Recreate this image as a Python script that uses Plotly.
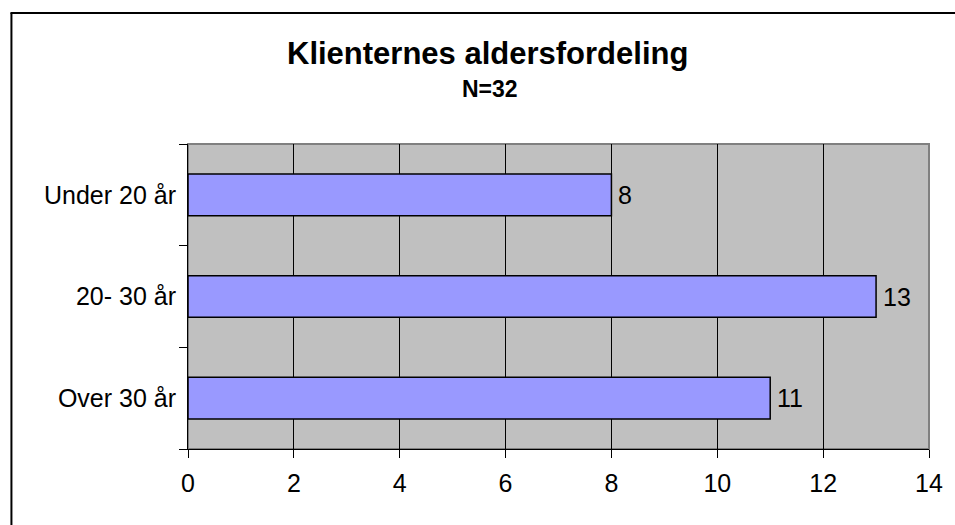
import plotly.graph_objects as go

categories = ["Over 30 år", "20- 30 år", "Under 20 år"]
values = [11, 13, 8]
x_ticks = [0, 2, 4, 6, 8, 10, 12, 14]
title_text = "Klienternes aldersfordeling"
subtitle_text = "N=32"

FONT = "Liberation Sans, Arial, sans-serif"
L, R, T, B = 188, 20, 144, 76
W, H = 955, 525
pw = W - L - R
ph = H - T - B

def px_x(px):
    return (px - L) / pw

def px_y(py):
    return (H - B - py) / ph

fig = go.Figure()
fig.add_trace(go.Bar(
    y=categories, x=values, orientation="h",
    marker=dict(color="#9999ff", line=dict(color="black", width=1.5)),
    hoverinfo="skip",
))

label_annotations = [
    dict(x=v, y=c, xref="x", yref="y", text=str(v), showarrow=False,
         xanchor="left", yanchor="middle", xshift=5,
         font=dict(family=FONT, size=25, color="black"))
    for c, v in zip(categories, values)
]

fig.update_layout(
    width=W, height=H,
    margin=dict(l=L, r=R, t=T, b=B),
    paper_bgcolor="white", plot_bgcolor="#c0c0c0",
    showlegend=False, bargap=0.59,
    font=dict(family=FONT, size=25, color="black"),
    xaxis=dict(range=[0, 14], tickvals=x_ticks, ticks="outside", ticklen=8,
               tickcolor="black", showline=True, linecolor="black", linewidth=1,
               showgrid=True, gridcolor="black", gridwidth=1, zeroline=False,
               tickfont=dict(size=25), ticklabelstandoff=4),
    yaxis=dict(type="category", categoryorder="array", categoryarray=categories,
               tickson="boundaries", ticks="outside", ticklen=8, tickcolor="black",
               showline=True, linecolor="black", linewidth=1, showgrid=False,
               tickfont=dict(size=25), ticklabelstandoff=6),
    shapes=[
        dict(type="rect", xref="paper", yref="paper", x0=0, x1=1, y0=0, y1=1,
             line=dict(color="#808080", width=2), layer="below"),
        dict(type="line", xref="paper", yref="paper", x0=px_x(10), x1=px_x(10),
             y0=px_y(540), y1=px_y(13), line=dict(color="black", width=2)),
        dict(type="line", xref="paper", yref="paper", x0=px_x(9), x1=px_x(970),
             y0=px_y(13), y1=px_y(13), line=dict(color="black", width=2)),
    ],
    annotations=[
        dict(text="<b>" + title_text + "</b>", xref="paper", yref="paper",
             x=px_x(490), y=px_y(54), xanchor="center", yanchor="middle",
             showarrow=False, font=dict(family=FONT, size=31, color="black")),
        dict(text="<b>" + subtitle_text + "</b>", xref="paper", yref="paper",
             x=px_x(492), y=px_y(89), xanchor="center", yanchor="middle",
             showarrow=False, font=dict(family=FONT, size=23, color="black")),
    ] + label_annotations,
)

fig.write_html(
    "out.html", config={"displayModeBar": False},
    post_script="document.body.style.margin='0px';"
                "document.body.style.overflow='hidden';"
                "document.documentElement.style.overflow='hidden';",
)
